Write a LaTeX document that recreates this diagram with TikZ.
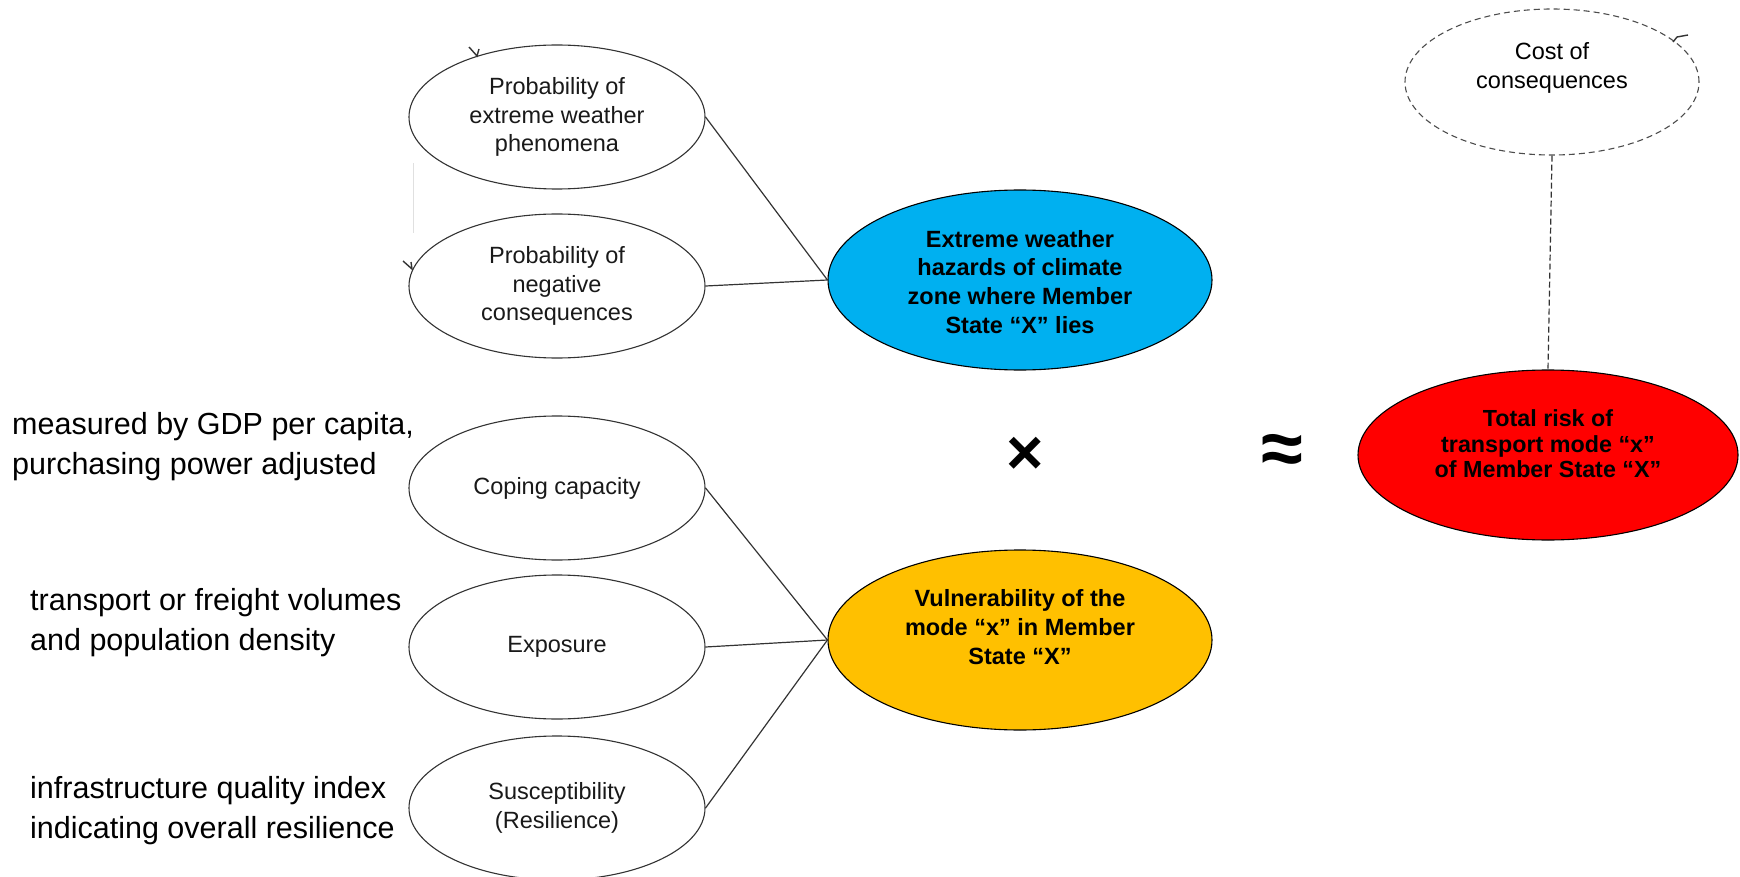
\documentclass[tikz,border=0pt]{standalone}
\usepackage{fontspec}
\setmainfont{Liberation Sans}
\usetikzlibrary{shapes.geometric}
\definecolor{hazardblue}{HTML}{00B0F0}
\definecolor{vulnyellow}{HTML}{FFC000}
\definecolor{riskred}{HTML}{FF0000}
\definecolor{inkgray}{HTML}{333333}
\tikzset{
  factor/.style={ellipse, draw=inkgray, line width=1.1pt, fill=white,
    minimum width=296pt, minimum height=144pt, inner sep=0pt,
    align=center, text=black!90, font=\fontsize{23.5}{28.8}\selectfont},
  bigoval/.style={ellipse, draw=black, line width=1.1pt, inner sep=0pt,
    minimum width=384pt, minimum height=180pt},
  costoval/.style={ellipse, draw=black!70, line width=1.1pt, dash pattern=on 6pt off 4pt,
    minimum width=294pt, minimum height=146pt, inner sep=0pt},
  boldtxt/.style={align=center, font=\bfseries\fontsize{23.5}{28.8}\selectfont},
  plaintxt/.style={align=center, font=\fontsize{23.5}{28.8}\selectfont},
  note/.style={align=left, anchor=base west, inner sep=0pt,
    font=\fontsize{30.5}{39.5}\selectfont},
  link/.style={draw=inkgray, line width=1.2pt},
  dashlink/.style={draw=black!80, line width=1.2pt, dash pattern=on 6pt off 3pt},
  tick/.style={draw=inkgray, line width=1.4pt}
}
\begin{document}
\begin{tikzpicture}[x=1pt, y=-1pt]
\useasboundingbox (0,0) rectangle (1740,877);

% faint guide stroke between the two upper factors
\draw[black!12, line width=1pt] (413,163) -- (413,233);

% hazard factors
\node[factor] (pext) at (557,117) {Probability of\\extreme weather\\phenomena};
\node[factor] (pneg) at (557,286) {Probability of\\negative\\consequences};

% vulnerability factors
\node[factor] (cope) at (557,488) {Coping capacity};
\node[factor] (expo) at (557,647) {Exposure};
\node[factor] (susc) at (557,808) {Susceptibility\\(Resilience)};

% aggregated components
\node[bigoval, fill=hazardblue] (haz) at (1020,280) {};
\node[boldtxt] (haztxt) at (1020,282) {Extreme weather\\hazards of climate\\zone where Member\\State “X” lies};

\node[bigoval, fill=vulnyellow] (vul) at (1020,640) {};
\node[boldtxt] (vultxt) at (1020,627) {Vulnerability of the\\mode “x” in Member\\State “X”};

\node[bigoval, fill=riskred, minimum width=380pt, minimum height=170pt] (risk) at (1548,455) {};
\node[boldtxt, font=\bfseries\fontsize{23.3}{25.5}\selectfont] (risktxt) at (1548,444) {Total risk of\\transport mode “x”\\of Member State “X”};

\node[costoval] (cost) at (1552,82) {};
\node[plaintxt] (costtxt) at (1552,68) {Cost of\\consequences};

% operators
\node[font=\bfseries\fontsize{64}{64}\selectfont] (times) at (1025,456) {×};
\node[font=\bfseries\fontsize{76}{76}\selectfont] (approx) at (1282,454) {≈};

% connectors
\draw[link] (pext.east) -- (haz.west);
\draw[link] (pneg.east) -- (haz.west);
\draw[link] (cope.east) -- (vul.west);
\draw[link] (expo.east) -- (vul.west);
\draw[link] (susc.east) -- (vul.west);
\draw[dashlink] (cost.south) -- (risk.north);

% small arrow-tip remnants on the ovals
\draw[tick] (469,47) -- (477,56) -- (479,49);
\draw[tick] (403,261) -- (412,269) -- (411,262);
\draw[tick] (1673,42) -- (1677,37) -- (1688,35);

% annotations of the vulnerability factors (anchored at the last baseline)
\node[note] (n1) at (12,474) {measured by GDP per capita,\\purchasing power adjusted};
\node[note] (n2) at (30,650) {transport or freight volumes\\and population density};
\node[note] (n3) at (30,838) {infrastructure quality index\\indicating overall resilience};
\end{tikzpicture}
\end{document}
